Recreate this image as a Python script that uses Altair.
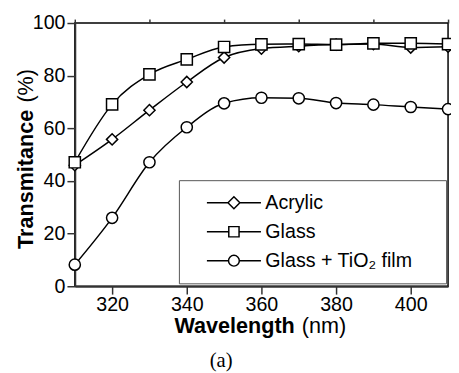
import altair as alt
import pandas as pd

# ---- data ----
wavelength = [310, 320, 330, 340, 350, 360, 370, 380, 390, 400, 410]
acrylic = [46.0, 55.8, 66.9, 77.6, 86.9, 90.3, 91.2, 91.8, 92.0, 90.7, 91.0]
glass = [47.1, 69.1, 80.5, 86.2, 90.9, 91.9, 92.0, 91.8, 92.3, 92.3, 92.0]
tio2 = [8.2, 26.0, 47.1, 60.4, 69.5, 71.6, 71.4, 69.6, 69.0, 68.1, 67.3]
series_names = ["Acrylic", "Glass", "Glass + TiO\u2082 film"]
marker_shapes = ["diamond", "square", "circle"]
x_major = [320, 340, 360, 380, 400]
x_minor = [310, 330, 350, 370, 390, 410]
y_ticks = list(range(0, 101, 10))

rows = []
for name, vals in zip(series_names, [acrylic, glass, tio2]):
    for w, v in zip(wavelength, vals):
        rows.append({"wavelength": w, "value": v, "series": name})
df = pd.DataFrame(rows)

# legend symbols: line - marker - line
line_part = "M-5,0H-1M1,0H5"
legend_paths = [
    line_part + "M-1.1,0L0,-1.1L1.1,0L0,1.1Z",
    line_part + "M-0.95,-0.95H0.95V0.95H-0.95Z",
    line_part + "M1,0A1,1,0,1,1,-1,0A1,1,0,1,1,1,0Z",
]

FONT = "Liberation Sans"
AX = "#333333"

x_scale = alt.Scale(domain=[310, 410], nice=False, zero=False)

x_major_axis = alt.Axis(
    values=x_major,
    tickSize=8,
    title=None,
    grid=False,
    labelOverlap=False,
    labelFlush=False,
    domainColor=AX,
    domainWidth=2,
    tickColor=AX,
    tickWidth=1.5,
    labelFont=FONT,
    labelFontSize=20,
    labelColor="black",
    labelPadding=1,
)
x_minor_axis = alt.Axis(
    values=x_minor,
    tickSize=4,
    labels=False,
    domain=False,
    title=None,
    grid=False,
    tickColor=AX,
    tickWidth=1.5,
)

y_enc = alt.Y(
    "value:Q",
    scale=alt.Scale(domain=[0, 100], nice=False),
    axis=alt.Axis(
        values=y_ticks,
        labelExpr="datum.value % 20 == 0 ? datum.label : ''",
        tickSize={"condition": {"test": "datum.value % 20 == 0", "value": 8}, "value": 4},
        title=None,
        grid=False,
        labelOverlap=False,
        domainColor=AX,
        domainWidth=2,
        tickColor=AX,
        tickWidth=1.5,
        labelFont=FONT,
        labelFontSize=20,
        labelColor="black",
        labelPadding=2,
    ),
)

base = alt.Chart(df)

lines = base.mark_line(color="black", strokeWidth=1.5, interpolate="monotone").encode(
    x=alt.X("wavelength:Q", scale=x_scale, axis=x_major_axis),
    y=y_enc,
    detail="series:N",
)

points = base.mark_point(
    filled=True, fill="white", stroke="black", strokeWidth=1.5, size=130, opacity=1
).encode(
    x=alt.X("wavelength:Q", axis=x_minor_axis),
    y="value:Q",
    shape=alt.Shape(
        "series:N",
        scale=alt.Scale(domain=series_names, range=marker_shapes),
        legend=None,
    ),
)

legend_layer = base.transform_filter("datum.wavelength < 0").mark_point(
    color="black", strokeWidth=1.5
).encode(
    x=alt.X("wavelength:Q", axis=None),
    y="value:Q",
    shape=alt.Shape(
        "series:N",
        scale=alt.Scale(domain=series_names, range=legend_paths),
        legend=alt.Legend(
            title=".",
            titleOrient="right",
            titleColor="white",
            titleFontSize=8,
            titlePadding=18,
            orient="none",
            legendX=106,
            legendY=160,
            padding=13,
            strokeColor="#555555",
            fillColor="white",
            labelFont=FONT,
            labelFontSize=20,
            labelColor="black",
            labelLimit=400,
            symbolSize=121,
            symbolStrokeWidth=1.5,
            symbolStrokeColor="black",
            symbolFillColor="white",
            symbolOpacity=1,
            symbolOffset=33,
            labelOffset=22,
            rowPadding=9.5,
        ),
    ),
)

one = pd.DataFrame({"k": [0]})

x_title_bold = alt.Chart(one).mark_text(
    text="Wavelength", font=FONT, fontSize=22, fontWeight="bold", align="right",
    baseline="alphabetic", color="black"
).encode(x=alt.value(224), y=alt.value(316))
x_title_unit = alt.Chart(one).mark_text(
    text="(nm)", font=FONT, fontSize=22, align="left", baseline="alphabetic", color="black"
).encode(x=alt.value(231), y=alt.value(316))

y_title_bold = alt.Chart(one).mark_text(
    text="Transmitance", font=FONT, fontSize=22, fontWeight="bold", align="left",
    baseline="alphabetic", angle=270, color="black"
).encode(x=alt.value(-43), y=alt.value(230))
y_title_unit = alt.Chart(one).mark_text(
    text="(%)", font=FONT, fontSize=22, align="left", baseline="alphabetic", angle=270,
    color="black"
).encode(x=alt.value(-43), y=alt.value(81))

caption = alt.Chart(one).mark_text(
    text="(a)", font="Liberation Serif", fontSize=21, align="center",
    baseline="alphabetic", color="black"
).encode(x=alt.value(149), y=alt.value(350))

chart = (
    alt.layer(lines, points, legend_layer, x_title_bold, x_title_unit,
              y_title_bold, y_title_unit, caption)
    .resolve_scale(shape="independent")
    .resolve_axis(x="independent")
    .properties(
        width=380,
        height=268,
        padding={"left": 68, "top": 12, "right": 3, "bottom": 85},
        autosize=alt.AutoSizeParams(type="none"),
        background="white",
    )
    .configure_view(stroke="black", strokeWidth=1.5)
)

chart.save("out.html", embed_options={"renderer": "svg", "actions": False})
